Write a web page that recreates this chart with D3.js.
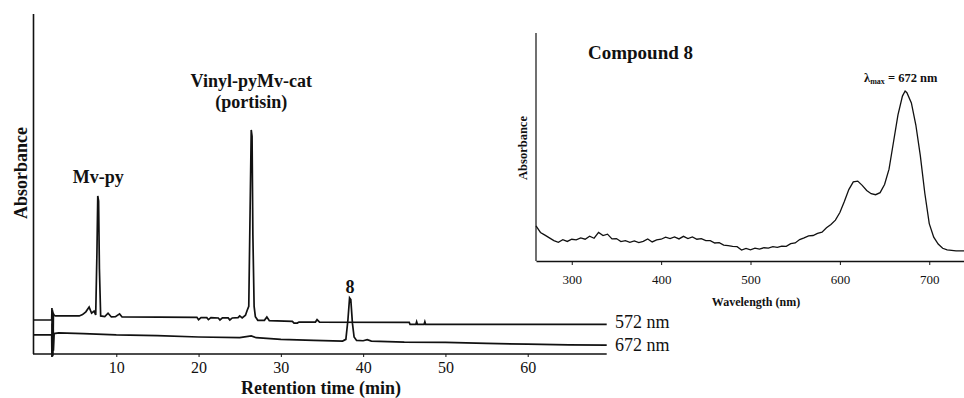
<!DOCTYPE html>
<html>
<head>
<meta charset="utf-8">
<script src="https://cdn.jsdelivr.net/npm/d3@7"></script>
<style>
  body { margin: 0; background: #fff; }
  svg text { font-family: "Liberation Serif", "DejaVu Serif", "Times New Roman", Times, serif; fill: #111; }
</style>
</head>
<body>
<div id="my_dataviz"></div>
<script>
// chromatogram, 572 nm trace (time in min, absorbance in arbitrary units)
var time572 = [0, 2.15, 2.18, 2.21, 2.24, 2.27, 2.3, 2.33, 2.36, 2.45, 2.6, 5.5, 5.9, 6.3, 6.7, 7.0, 7.3, 7.5, 7.65, 7.75, 7.85, 7.95, 8.1,
    8.6, 9.0, 9.4, 9.9, 10.4, 10.7, 19.8, 20.0, 20.3, 21.0, 21.2, 21.5, 22.4, 22.6, 22.9, 23.6, 23.8, 24.1, 24.8, 25.0,
    25.3, 25.7, 25.9, 26.1, 26.25, 26.4, 26.5, 26.6, 26.75, 26.9, 27.2, 28.0, 28.3, 28.6, 31.4, 31.6, 32.0, 32.2, 34.2, 34.4,
    34.7, 45.6, 45.7, 46.4, 46.5, 46.6, 47.4, 47.5, 47.6, 69.6];
var abs572 = [10.0, 10.0, 13.5, 4.0, 13.0, 3.5, 12.5, 5.0, 11.8, 11.4, 11.2, 11.2, 11.6, 12.4, 13.8, 12.0, 12.6, 11.5, 30, 46.5, 45, 25, 11.2,
    11.0, 12.0, 10.9, 11.0, 11.8, 10.9, 10.8, 10.1, 10.7, 10.7, 10.1, 10.7, 10.6, 10.0, 10.6, 10.6, 10.0, 10.6, 10.7, 11.2,
    10.6, 11.4, 12.8, 14, 40, 65.9, 64, 35, 14, 11.0, 9.9, 9.9, 10.9, 9.8, 9.6, 9.1, 9.1, 9.4, 9.4, 10.1,
    9.4, 9.3, 8.7, 8.7, 9.5, 8.7, 8.7, 9.5, 8.7, 8.7];

// chromatogram, 672 nm trace
var time672 = [0, 2.15, 2.18, 2.21, 2.24, 2.27, 2.3, 2.33, 2.36, 2.45, 3.0, 6.0, 10.0, 15.0, 20.0, 25.0, 26.4, 27.0, 30.0, 34.0, 37.5, 37.9, 38.15,
    38.35, 38.5, 38.7, 38.9, 39.2, 40.0, 40.5, 41.0, 45.0, 50.0, 55.0, 60.0, 65.0, 69.6];
var abs672 = [5.6, 5.6, -0.9, 9.0, -0.7, 8.5, -0.5, 7.5, 1.0, 6.0, 6.2, 6.0, 5.6, 5.4, 5.0, 4.8, 5.3, 4.8, 4.3, 4.0, 3.8, 4.3, 10,
    16.5, 16.0, 9, 5.0, 4.0, 3.9, 4.2, 3.8, 3.5, 3.4, 3.1, 2.9, 2.7, 2.6];

var timeTicks = [10, 20, 30, 40, 50, 60];

// peak labels
var peakNames = ["Mv-py", "Vinyl-pyMv-cat", "8"];
var peakTimes = [7.8, 26.4, 38.4];

// UV-vis spectrum of compound 8 (normalised absorbance)
var wavelength = [260, 265, 270, 275, 280, 285, 290, 295, 300, 305, 310, 315, 320, 325, 330, 335, 340, 345, 350, 355,
    360, 365, 370, 375, 380, 385, 390, 395, 400, 405, 410, 415, 420, 425, 430, 435, 440, 445, 450, 455,
    460, 465, 470, 475, 480, 485, 490, 495, 500, 505, 510, 515, 520, 525, 530, 535, 540, 545, 550, 555,
    560, 565, 570, 575, 580, 585, 590, 595, 600, 605, 610, 615, 620, 625, 630, 635, 640, 645, 650, 655,
    660, 665, 670, 673, 675, 680, 685, 690, 695, 700, 705, 710, 715, 720, 730, 740];
var spectrum = [0.206, 0.168, 0.152, 0.136, 0.120, 0.110, 0.125, 0.115, 0.128, 0.124, 0.136, 0.128, 0.146, 0.134, 0.168, 0.150, 0.158, 0.130, 0.132, 0.114,
    0.120, 0.110, 0.118, 0.108, 0.116, 0.130, 0.112, 0.124, 0.128, 0.140, 0.132, 0.142, 0.130, 0.145, 0.132, 0.142, 0.128, 0.132, 0.120, 0.120,
    0.106, 0.108, 0.094, 0.090, 0.086, 0.084, 0.064, 0.074, 0.066, 0.076, 0.070, 0.078, 0.076, 0.084, 0.080, 0.088, 0.086, 0.102, 0.106, 0.126,
    0.136, 0.148, 0.150, 0.162, 0.170, 0.195, 0.215, 0.240, 0.285, 0.350, 0.420, 0.465, 0.470, 0.445, 0.415, 0.396, 0.390, 0.402, 0.450, 0.540,
    0.700, 0.860, 0.970, 1.0, 0.990, 0.930, 0.800, 0.620, 0.400, 0.220, 0.140, 0.100, 0.075, 0.065, 0.060, 0.060];
var wlTicks = [300, 400, 500, 600, 700];

var svg = d3.select("#my_dataviz")
    .append("svg")
        .attr("width", 964)
        .attr("height", 398);

// ---------- main chromatogram ----------
var x = d3.scaleLinear().domain([0, 70]).range([34, 610]);
var y = d3.scaleLinear().domain([0, 100]).range([354, 14]);

var line = d3.line()
    .x(function(d) { return x(d.t); })
    .y(function(d) { return y(d.a); });

function pairs(ts, as) {
    return ts.map(function(t, i) { return {t: t, a: as[i]}; });
}

var main = svg.append("g");

main.append("path")
    .datum(pairs(time572, abs572))
    .attr("fill", "none")
    .attr("stroke", "#111")
    .attr("stroke-width", 1.7)
    .attr("d", line);

main.append("path")
    .datum(pairs(time672, abs672))
    .attr("fill", "none")
    .attr("stroke", "#111")
    .attr("stroke-width", 1.7)
    .attr("d", line);

// axes
var xAxis = main.append("g")
    .attr("transform", "translate(0," + y(0) + ")")
    .call(d3.axisBottom(x).tickValues(timeTicks).tickSize(3).tickSizeOuter(0));
xAxis.select(".domain").attr("stroke", "#111").attr("stroke-width", 1.6)
    .attr("d", "M" + (x(0) - 1) + ",0H" + x(69.6));
xAxis.selectAll(".tick line").attr("stroke", "#111");
xAxis.selectAll("text")
    .attr("dy", 0)
    .attr("y", 19)
    .style("font-size", "16px")
    .style("font-family", null);

main.append("line")
    .attr("x1", x(0) - 0.5).attr("x2", x(0) - 0.5)
    .attr("y1", y(100)).attr("y2", y(0))
    .attr("stroke", "#111").attr("stroke-width", 1.6);

main.append("text")
    .attr("x", 321)
    .attr("y", 394)
    .attr("text-anchor", "middle")
    .style("font-size", "18px")
    .style("font-weight", "bold")
    .text("Retention time (min)");

main.append("text")
    .attr("transform", "translate(27,173)rotate(-90)")
    .attr("text-anchor", "middle")
    .style("font-size", "18px")
    .style("font-weight", "bold")
    .text("Absorbance");

// trace labels
main.append("text").attr("x", 615).attr("y", 328)
    .style("font-size", "18px").text("572 nm");
main.append("text").attr("x", 615).attr("y", 351)
    .style("font-size", "18px").text("672 nm");

// peak labels
main.append("text").attr("x", x(peakTimes[0])).attr("y", 183)
    .attr("text-anchor", "middle")
    .style("font-size", "18px").style("font-weight", "bold")
    .text(peakNames[0]);
main.append("text").attr("x", x(peakTimes[1])).attr("y", 87)
    .attr("text-anchor", "middle")
    .style("font-size", "18px").style("font-weight", "bold")
    .text(peakNames[1]);
main.append("text").attr("x", x(peakTimes[1])).attr("y", 108)
    .attr("text-anchor", "middle")
    .style("font-size", "18px").style("font-weight", "bold")
    .text("(portisin)");
main.append("text").attr("x", x(peakTimes[2])).attr("y", 293)
    .attr("text-anchor", "middle")
    .style("font-size", "18px").style("font-weight", "bold")
    .text(peakNames[2]);

// ---------- inset spectrum ----------
var xs = d3.scaleLinear().domain([260, 740]).range([536, 965]);
var ys = d3.scaleLinear().domain([0, 1]).range([261, 91]);

var inset = svg.append("g");

inset.append("path")
    .datum(wavelength.map(function(w, i) { return {w: w, a: spectrum[i]}; }))
    .attr("fill", "none")
    .attr("stroke", "#111")
    .attr("stroke-width", 1.3)
    .attr("d", d3.line()
        .x(function(d) { return xs(d.w); })
        .y(function(d) { return ys(d.a); }));

var sAxis = inset.append("g")
    .attr("transform", "translate(0," + ys(0) + ")")
    .call(d3.axisBottom(xs).tickValues(wlTicks).tickSize(4).tickSizeOuter(0));
sAxis.select(".domain").attr("stroke", "#111").attr("stroke-width", 1.4);
sAxis.selectAll(".tick line").attr("stroke", "#111");
sAxis.selectAll("text")
    .attr("dy", 0)
    .attr("y", 23)
    .style("font-size", "13px")
    .style("font-family", null);

inset.append("line")
    .attr("x1", xs(260)).attr("x2", xs(260))
    .attr("y1", 33).attr("y2", ys(0))
    .attr("stroke", "#111").attr("stroke-width", 1.2);

inset.append("text")
    .attr("x", 756).attr("y", 306)
    .attr("text-anchor", "middle")
    .style("font-size", "12px").style("font-weight", "bold")
    .text("Wavelength (nm)");

inset.append("text")
    .attr("transform", "translate(527,148)rotate(-90)")
    .attr("text-anchor", "middle")
    .style("font-size", "12.5px").style("font-weight", "bold")
    .text("Absorbance");

inset.append("text")
    .attr("x", 588).attr("y", 59)
    .style("font-size", "19px").style("font-weight", "bold")
    .text("Compound 8");

var lam = inset.append("text")
    .attr("x", 864).attr("y", 82)
    .style("font-size", "12.5px").style("font-weight", "bold");
lam.append("tspan").text("λ");
lam.append("tspan").attr("dy", 2).style("font-size", "8px").text("max");
lam.append("tspan").attr("dy", -2).text(" = 672 nm");
</script>
</body>
</html>
